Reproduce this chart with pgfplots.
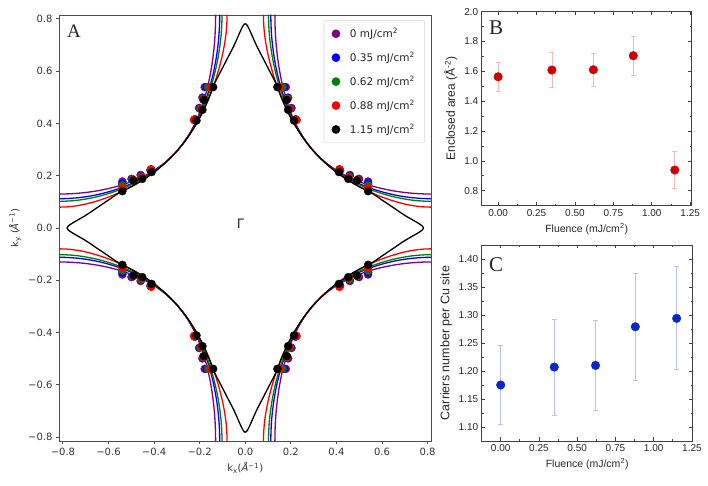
\documentclass[border=0pt]{standalone}
\usepackage{pgfplots}
\pgfplotsset{compat=1.18}
\usepackage{pgfplotstable}
\usepackage{fontspec}
\setmainfont{DejaVu Sans}
\newfontfamily\arialfont{Liberation Sans}
\newfontfamily\timesfont{Liberation Serif}

\definecolor{mplpurple}{HTML}{800080}
\definecolor{mplblue}{HTML}{0000FF}
\definecolor{mplgreen}{HTML}{008000}
\definecolor{mplred}{HTML}{FF0000}
\definecolor{areared}{HTML}{CC0000}
\definecolor{areaerr}{HTML}{F3B8B8}
\definecolor{carrblue}{HTML}{0A2AC8}
\definecolor{carrerr}{HTML}{B8C2F2}

% Fermi-surface contours in the first quadrant (kx, ky in 1/Angstrom);
% the other quadrants follow from the square-lattice symmetry.
\pgfplotstableread{
kx ky
0.1300 0.8160
0.1305 0.7800
0.1325 0.7400
0.1358 0.7000
0.1421 0.6500
0.1509 0.6000
0.1624 0.5500
0.1773 0.5000
0.1963 0.4500
0.2205 0.4000
0.2521 0.3500
0.2759 0.3200
0.2970 0.2970
0.3200 0.2759
0.3500 0.2521
0.4000 0.2205
0.4500 0.1963
0.5000 0.1773
0.5500 0.1624
0.6000 0.1509
0.6500 0.1421
0.7000 0.1358
0.7400 0.1325
0.7800 0.1305
0.8160 0.1300
}\fsA
\pgfplotstableread{
kx ky
0.1120 0.8160
0.1128 0.7800
0.1153 0.7400
0.1195 0.7000
0.1274 0.6500
0.1383 0.6000
0.1521 0.5500
0.1695 0.5000
0.1909 0.4500
0.2175 0.4000
0.2510 0.3500
0.2757 0.3200
0.2970 0.2970
0.3200 0.2757
0.3500 0.2510
0.4000 0.2175
0.4500 0.1909
0.5000 0.1695
0.5500 0.1521
0.6000 0.1383
0.6500 0.1274
0.7000 0.1195
0.7400 0.1153
0.7800 0.1128
0.8160 0.1120
}\fsB
\pgfplotstableread{
kx ky
0.1020 0.8160
0.1029 0.7800
0.1057 0.7400
0.1108 0.7000
0.1196 0.6500
0.1317 0.6000
0.1469 0.5500
0.1655 0.5000
0.1883 0.4500
0.2161 0.4000
0.2506 0.3500
0.2756 0.3200
0.2970 0.2970
0.3200 0.2756
0.3500 0.2506
0.4000 0.2161
0.4500 0.1883
0.5000 0.1655
0.5500 0.1469
0.6000 0.1317
0.6500 0.1196
0.7000 0.1108
0.7400 0.1057
0.7800 0.1029
0.8160 0.1020
}\fsC
\pgfplotstableread{
kx ky
0.0798 0.8160
0.0809 0.7800
0.0849 0.7400
0.0916 0.7000
0.1034 0.6500
0.1184 0.6000
0.1365 0.5500
0.1581 0.5000
0.1834 0.4500
0.2135 0.4000
0.2498 0.3500
0.2755 0.3200
0.2970 0.2970
0.3200 0.2755
0.3500 0.2498
0.4000 0.2135
0.4500 0.1834
0.5000 0.1581
0.5500 0.1365
0.6000 0.1184
0.6500 0.1034
0.7000 0.0916
0.7400 0.0849
0.7800 0.0809
0.8160 0.0798
}\fsD
\pgfplotstableread{
kx ky
0.0000 0.7820
0.0080 0.7760
0.0200 0.7560
0.0483 0.7000
0.0777 0.6500
0.1071 0.6000
0.1365 0.5500
0.1581 0.5000
0.1834 0.4500
0.2135 0.4000
0.2498 0.3500
0.2755 0.3200
0.2970 0.2970
0.3200 0.2755
0.3500 0.2498
0.4000 0.2135
0.4500 0.1834
0.5000 0.1581
0.5500 0.1365
0.6000 0.1071
0.6500 0.0777
0.7000 0.0483
0.7560 0.0200
0.7760 0.0080
0.7820 0.0000
}\fsE

% Measured Fermi momenta, first quadrant
\pgfplotstableread{
kx ky
0.178 0.539
0.188 0.499
0.203 0.459
0.221 0.416
0.416 0.221
0.459 0.203
0.499 0.188
0.539 0.178
}\kfA
\pgfplotstableread{
kx ky
0.170 0.539
0.186 0.497
0.199 0.457
0.222 0.415
0.415 0.222
0.457 0.199
0.497 0.186
0.539 0.170
}\kfB
\pgfplotstableread{
kx ky
0.163 0.539
0.185 0.495
0.197 0.456
0.223 0.414
0.414 0.223
0.456 0.197
0.495 0.185
0.539 0.163
}\kfC
\pgfplotstableread{
kx ky
0.153 0.539
0.184 0.493
0.193 0.454
0.225 0.413
0.413 0.225
0.454 0.193
0.493 0.184
0.539 0.153
}\kfD
\pgfplotstableread{
kx ky
0.141 0.539
0.182 0.490
0.188 0.452
0.214 0.411
0.411 0.214
0.452 0.188
0.490 0.182
0.539 0.141
}\kfE

% Enclosed area and carrier number versus fluence
\pgfplotstableread{
f a e
0.00 1.564 0.096
0.35 1.609 0.117
0.62 1.611 0.109
0.88 1.705 0.129
1.15 0.939 0.123
}\areaData
\pgfplotstableread{
f n e
0.00 1.175 0.071
0.35 1.207 0.086
0.62 1.210 0.081
0.88 1.279 0.096
1.15 1.294 0.092
}\carrData

% draw a first-quadrant table in all four quadrants
\newcommand{\fourquadrants}[2]{%
  \addplot[#1] table[x=kx,y=ky]{#2};
  \addplot[#1] table[x expr=-\thisrow{kx},y=ky]{#2};
  \addplot[#1] table[x=kx,y expr=-\thisrow{ky}]{#2};
  \addplot[#1] table[x expr=-\thisrow{kx},y expr=-\thisrow{ky}]{#2};
}

\begin{document}
\begin{tikzpicture}
\useasboundingbox (0,0) rectangle (708pt,486pt);

% ---------------- A: Fermi surfaces ----------------
\begin{axis}[
  at={(59.5pt,45pt)}, anchor=south west,
  scale only axis, width=371.5pt, height=426pt,
  xmin=-0.815, xmax=0.815, ymin=-0.815, ymax=0.815,
  axis line style={black!70, line width=0.9pt},
  tick pos=left, tick align=outside,
  major tick length=3.5pt,
  every tick/.style={black!70, line width=0.9pt},
  xtick={-0.8,-0.6,-0.4,-0.2,0,0.2,0.4,0.6,0.8},
  xticklabels={−0.8,−0.6,−0.4,−0.2,0.0,0.2,0.4,0.6,0.8},
  ytick={-0.8,-0.6,-0.4,-0.2,0,0.2,0.4,0.6,0.8},
  yticklabels={−0.8,−0.6,−0.4,−0.2,0.0,0.2,0.4,0.6,0.8},
  ticklabel style={font=\fontsize{10}{12}\selectfont, text=black!80},
  xlabel={k\textsubscript{x}(\textit{Å}\textsuperscript{−1})},
  ylabel={k\textsubscript{y} (\textit{Å}\textsuperscript{−1})},
  label style={font=\fontsize{10}{12}\selectfont, text=black!80},
  legend style={at={(1,1)}, anchor=north east, xshift=-6pt, yshift=-5pt,
    draw=black!15, line width=0.6pt, rounded corners=2pt, fill=white,
    font=\fontsize{10.5}{12}\selectfont, text=black!85,
    row sep=9pt, inner xsep=8pt, inner ysep=6pt, cells={anchor=west},
    /tikz/every odd column/.append style={column sep=8pt}},
]
\fourquadrants{mplpurple, line width=1.3pt, smooth, forget plot}{\fsA}
\fourquadrants{mplblue, line width=1.3pt, smooth, forget plot}{\fsB}
\fourquadrants{mplgreen, line width=1.3pt, smooth, forget plot}{\fsC}
\fourquadrants{mplred, line width=1.3pt, smooth, forget plot}{\fsD}
\fourquadrants{black, line width=1.3pt, smooth, forget plot}{\fsE}

\fourquadrants{only marks, mark=*, mark size=4pt, mplpurple, forget plot}{\kfA}
\fourquadrants{only marks, mark=*, mark size=4pt, mplblue, forget plot}{\kfB}
\fourquadrants{only marks, mark=*, mark size=4pt, mplgreen, forget plot}{\kfC}
\fourquadrants{only marks, mark=*, mark size=4pt, mplred, forget plot}{\kfD}
\fourquadrants{only marks, mark=*, mark size=4pt, black, forget plot}{\kfE}

\addlegendimage{only marks, mark=*, mark size=4pt, mplpurple}
\addlegendentry{0 mJ/cm\textsuperscript{2}}
\addlegendimage{only marks, mark=*, mark size=4pt, mplblue}
\addlegendentry{0.35 mJ/cm\textsuperscript{2}}
\addlegendimage{only marks, mark=*, mark size=4pt, mplgreen}
\addlegendentry{0.62 mJ/cm\textsuperscript{2}}
\addlegendimage{only marks, mark=*, mark size=4pt, mplred}
\addlegendentry{0.88 mJ/cm\textsuperscript{2}}
\addlegendimage{only marks, mark=*, mark size=4pt, black}
\addlegendentry{1.15 mJ/cm\textsuperscript{2}}

\node[font=\fontsize{13}{15}\selectfont, text=black!85] at (axis cs:-0.021,0.018) {Γ};
\end{axis}
\node[font=\timesfont\fontsize{19}{22}\selectfont, text=black!85] at (74pt,455pt) {A};

% ---------------- B: enclosed area ----------------
\begin{axis}[
  at={(481.7pt,280.3pt)}, anchor=south west,
  scale only axis, width=210pt, height=194pt,
  xmin=-0.107, xmax=1.26, ymin=0.7, ymax=2.0,
  xtick={0,0.25,0.5,0.75,1.0,1.25},
  xticklabels={0.00,0.25,0.50,0.75,1.00,1.25},
  ytick={0.8,1.0,1.2,1.4,1.6,1.8,2.0},
  yticklabels={0.8,1.0,1.2,1.4,1.6,1.8,2.0},
  minor x tick num=1, minor y tick num=1,
  tick pos=both, tick align=inside,
  major tick length=3.5pt, minor tick length=2pt,
  axis line style={black!75, line width=0.8pt},
  every tick/.style={black!75, line width=0.7pt},
  ticklabel style={font=\arialfont\fontsize{10}{12}\selectfont, text=black!85},
  xlabel={Fluence (mJ/cm\textsuperscript{2})},
  ylabel={Enclosed area (Å\textsuperscript{-2})},
  xlabel style={font=\arialfont\fontsize{10.5}{12}\selectfont, text=black!85},
  ylabel style={font=\arialfont\fontsize{12}{14}\selectfont, text=black!85},
]
\addplot[only marks, mark=*, mark size=4.3pt, color=areared,
  error bars/.cd, y dir=both, y explicit,
  error bar style={areaerr, line width=0.8pt},
  error mark options={areaerr, rotate=90, mark size=2.5pt, line width=0.8pt}]
  table[x=f, y=a, y error=e]{\areaData};
\end{axis}
\node[font=\timesfont\fontsize{21}{24}\selectfont, text=black!85] at (496pt,458.5pt) {B};

% ---------------- C: carriers per Cu site ----------------
\begin{axis}[
  at={(481.7pt,45pt)}, anchor=south west,
  scale only axis, width=211pt, height=196pt,
  xmin=-0.124, xmax=1.255, ymin=1.075, ymax=1.425,
  xtick={0,0.25,0.5,0.75,1.0,1.25},
  xticklabels={0.00,0.25,0.50,0.75,1.00,1.25},
  ytick={1.10,1.15,1.20,1.25,1.30,1.35,1.40},
  yticklabels={1.10,1.15,1.20,1.25,1.30,1.35,1.40},
  minor x tick num=1, minor y tick num=1,
  tick pos=both, tick align=inside,
  major tick length=3.5pt, minor tick length=2pt,
  axis line style={black!75, line width=0.8pt},
  every tick/.style={black!75, line width=0.7pt},
  ticklabel style={font=\arialfont\fontsize{10}{12}\selectfont, text=black!85},
  xlabel={Fluence (mJ/cm\textsuperscript{2})},
  ylabel={Carriers number per Cu site},
  xlabel style={font=\arialfont\fontsize{10.5}{12}\selectfont, text=black!85},
  ylabel style={font=\arialfont\fontsize{12.5}{14}\selectfont, text=black!85},
]
\addplot[only marks, mark=*, mark size=4.3pt, color=carrblue,
  error bars/.cd, y dir=both, y explicit,
  error bar style={carrerr, line width=0.8pt},
  error mark options={carrerr, rotate=90, mark size=2.5pt, line width=0.8pt}]
  table[x=f, y=n, y error=e]{\carrData};
\end{axis}
\node[font=\timesfont\fontsize{21}{24}\selectfont, text=black!85] at (496pt,221pt) {C};
\end{tikzpicture}
\end{document}
